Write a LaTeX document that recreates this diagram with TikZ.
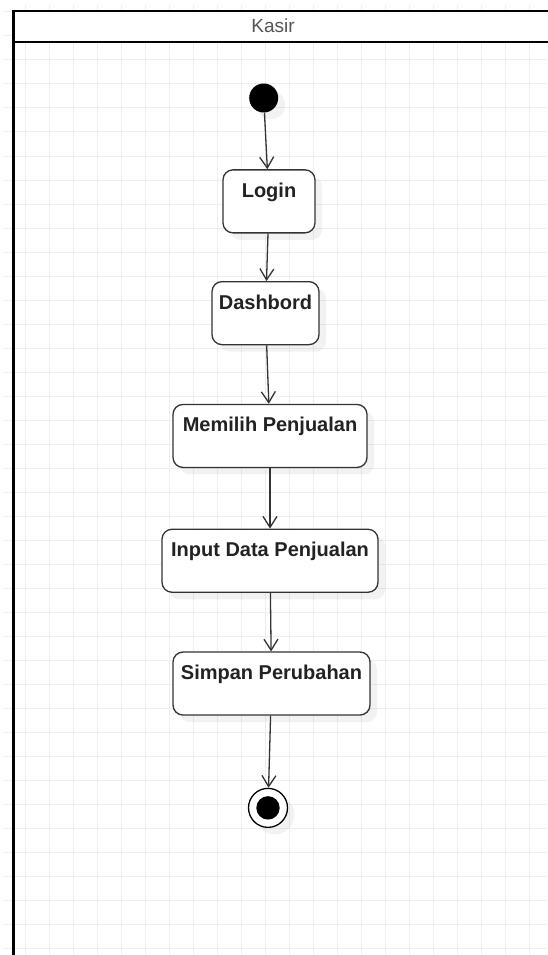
\documentclass[tikz,border=0pt]{standalone}
\usepackage{fontspec}
\setmainfont{Liberation Sans}
\usepackage{tikz}
\usetikzlibrary{arrows.meta,positioning,shadows}
\definecolor{gridgray}{HTML}{EEEEEE}
\definecolor{linegray}{HTML}{333333}
\definecolor{textgray}{HTML}{222222}
\definecolor{headgray}{HTML}{555555}
\tikzset{
    >={Straight Barb[length=11pt,width=14pt]},
    x=1pt, y=-1pt,
    grid line/.style={draw=gridgray, line width=1pt},
    lane line/.style={draw=black, line width=1.6pt},
    act shadow/.style={drop shadow={opacity=0.1, shadow xshift=7pt, shadow yshift=-7pt}},
    activity/.style={rectangle, rounded corners=10pt, draw=linegray, line width=1.3pt,
        fill=white, minimum height=63pt, inner xsep=0pt, inner ysep=0pt,
        text height=27.5pt, text depth=35.5pt, text=textgray,
        font=\fontsize{20}{24}\selectfont\bfseries, act shadow},
    start state/.style={circle, fill=black, minimum size=29pt, inner sep=0pt, act shadow},
    end state/.style={circle, draw=black, line width=1.3pt, fill=white, minimum size=39pt,
        inner sep=0pt, act shadow,
        path picture={\fill[black] (path picture bounding box.center) circle (11.7pt);}},
    flow/.style={->, draw=linegray, line width=1.3pt}
}
\begin{document}
\begin{tikzpicture}
    \useasboundingbox (0,0) rectangle (547,955);
    % background grid
    \foreach \gx in {25,49,...,547}
        \draw[grid line] (\gx,5) -- (\gx,955);
    \foreach \gy in {12,36,...,955}
        \draw[grid line] (3,\gy) -- (547,\gy);
    % swimlane
    \fill[white] (13,11) rectangle (547,42);
    \node[text=headgray, font=\fontsize{19}{23}\selectfont] (lane) at (273,26) {Kasir};
    \draw[lane line, line width=1.5pt] (13,11) -- (548,11);
    \draw[lane line, line width=2.5pt] (13,42) -- (548,42);
    \draw[lane line, line width=3pt] (13,10) -- (13,956);

    \node[start state] (start) at (263.7,98) {};
    \node[activity, minimum width=92pt] (login) [below = 56.5pt of start, xshift=5.3pt] {Login};
    \node[activity, minimum width=107pt] (dash) [below = 47.5pt of login, xshift=-3.5pt] {Dashbord};
    \node[activity, minimum width=194pt] (pilih) [below = 58.5pt of dash, xshift=4.5pt] {Memilih Penjualan};
    \node[activity, minimum width=216pt] (input) [below = 60.5pt of pilih] {Input Data Penjualan};
    \node[activity, minimum width=197pt] (simpan) [below = 58.5pt of input, xshift=1.5pt] {Simpan Perubahan};
    \node[end state] (end) [below = 72pt of simpan, xshift=-3.5pt] {};
    \path
        (start) edge [flow] (login)
        (login) edge [flow] (dash)
        (dash) edge [flow] (pilih)
        (pilih) edge [flow] (input)
        (input) edge [flow] (simpan)
        (simpan) edge [flow] (end)
        ;
\end{tikzpicture}
\end{document}
